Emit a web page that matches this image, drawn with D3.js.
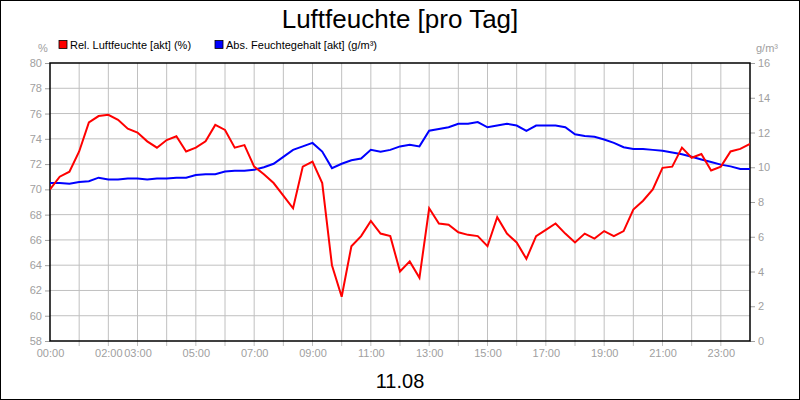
<!DOCTYPE html>
<html><head><meta charset="utf-8">
<script src="https://cdn.jsdelivr.net/npm/d3@7"></script>
<style>body{margin:0;background:#fff}svg{display:block;font-family:"Liberation Sans",Arial,sans-serif}</style>
</head><body><svg id="c" width="800" height="400"></svg>
<script>
const title = "Luftfeuchte [pro Tag]";
const dateLabel = "11.08";
const seriesNames = ["Rel. Luftfeuchte [akt] (%)", "Abs. Feuchtegehalt [akt] (g/m³)"];
const seriesColors = ["#ff0000", "#0000ff"];
const xTickHours = [0,2,3,5,7,9,11,13,15,17,19,21,23];
const leftTicks = [58,60,62,64,66,68,70,72,74,76,78,80];
const rightTicks = [0,2,4,6,8,10,12,14,16];
// samples every 20 minutes, 00:00 - 24:00
const relHum = [70.0,71.0,71.4,73.0,75.3,75.8,75.9,75.5,74.8,74.5,73.8,73.3,73.9,74.2,73.0,73.3,73.8,75.1,74.7,73.3,73.5,71.8,71.2,70.5,69.5,68.5,71.8,72.2,70.5,64.0,61.5,65.5,66.3,67.5,66.5,66.3,63.5,64.3,63.0,68.5,67.3,67.2,66.6,66.4,66.3,65.5,67.8,66.5,65.8,64.5,66.3,66.8,67.3,66.5,65.8,66.5,66.1,66.7,66.3,66.7,68.4,69.1,70.0,71.7,71.8,73.3,72.5,72.8,71.5,71.8,73.0,73.2,73.6];
const absHum = [9.1,9.1,9.05,9.15,9.2,9.4,9.3,9.3,9.35,9.35,9.3,9.35,9.35,9.4,9.4,9.55,9.6,9.6,9.75,9.8,9.8,9.85,10.0,10.2,10.6,11.0,11.2,11.4,10.9,9.95,10.2,10.4,10.5,11.0,10.9,11.0,11.2,11.3,11.2,12.1,12.2,12.3,12.5,12.5,12.6,12.3,12.4,12.5,12.4,12.1,12.4,12.4,12.4,12.3,11.9,11.8,11.75,11.6,11.4,11.15,11.05,11.05,11.0,10.95,10.85,10.75,10.6,10.45,10.3,10.15,10.05,9.9,9.9];

const svg = d3.select("#c");
const L=50,R=750,T=63,B=341;
const x = d3.scaleLinear().domain([0,24]).range([L,R]);
const yL = d3.scaleLinear().domain([58,80]).range([B,T]);
const yR = d3.scaleLinear().domain([0,16]).range([B,T]);
svg.append("rect").attr("x",0.5).attr("y",0.5).attr("width",799).attr("height",399).attr("fill","#fff").attr("stroke","#000");
const g = svg.append("g");
// grid
g.selectAll(".vg").data(d3.range(1,24)).join("line").attr("x1",d=>x(d)).attr("x2",d=>x(d)).attr("y1",T).attr("y2",B+5).attr("stroke","#c0c0c0");
g.selectAll(".hg").data(leftTicks.slice(1,-1)).join("line").attr("x1",L).attr("x2",R).attr("y1",d=>yL(d)).attr("y2",d=>yL(d)).attr("stroke","#c0c0c0");
// axes
const grey="#a0a0a0";
const ax = svg.append("g").attr("transform",`translate(0,${B})`).call(d3.axisBottom(x).tickValues(xTickHours).tickSize(0).tickPadding(8).tickFormat(d=>String(d).padStart(2,"0")+":00"));
ax.select(".domain").remove();
const ayl = svg.append("g").attr("transform",`translate(${L},0)`).call(d3.axisLeft(yL).tickValues(leftTicks).tickSize(5).tickPadding(3));
ayl.select(".domain").remove();
const ayr = svg.append("g").attr("transform",`translate(${R},0)`).call(d3.axisRight(yR).tickValues(rightTicks).tickSize(5).tickPadding(3));
ayr.select(".domain").remove();
[ax,ayl,ayr].forEach(a=>{a.selectAll("text").attr("fill",grey).attr("font-size",11).attr("font-family","Liberation Sans, Arial");a.selectAll("line").attr("stroke",grey);});
// frame
svg.append("rect").attr("x",L).attr("y",T).attr("width",R-L).attr("height",B-T).attr("fill","none").attr("stroke","#000").attr("stroke-width",1.5);
// lines
const xs = i=>x(i/3);
const clip = svg.append("clipPath").attr("id","cp").append("rect").attr("x",L).attr("y",T).attr("width",R-L).attr("height",B-T);
svg.append("path").datum(absHum).attr("clip-path","url(#cp)").attr("fill","none").attr("stroke",seriesColors[1]).attr("stroke-width",2)
  .attr("d",d3.line().x((d,i)=>xs(i)).y(d=>yR(d)));
svg.append("path").datum(relHum).attr("clip-path","url(#cp)").attr("fill","none").attr("stroke",seriesColors[0]).attr("stroke-width",2)
  .attr("d",d3.line().x((d,i)=>xs(i)).y(d=>yL(d)));
// title etc
svg.append("text").attr("x",400).attr("y",28).attr("text-anchor","middle").attr("font-size",26).text(title);
svg.append("text").attr("x",400).attr("y",388).attr("text-anchor","middle").attr("font-size",20).text(dateLabel);
svg.append("text").attr("x",43).attr("y",52).attr("text-anchor","middle").attr("font-size",11).attr("fill",grey).text("%");
svg.append("text").attr("x",767).attr("y",52).attr("text-anchor","middle").attr("font-size",11).attr("fill",grey).text("g/m³");
const legX=[59,215];
seriesNames.forEach((n,i)=>{
  svg.append("rect").attr("x",legX[i]).attr("y",40.5).attr("width",8).attr("height",8).attr("fill",seriesColors[i]).attr("stroke","#000").attr("stroke-width",0.8);
  svg.append("text").attr("x",legX[i]+11).attr("y",49).attr("font-size",11).text(n);
});
</script></body></html>
